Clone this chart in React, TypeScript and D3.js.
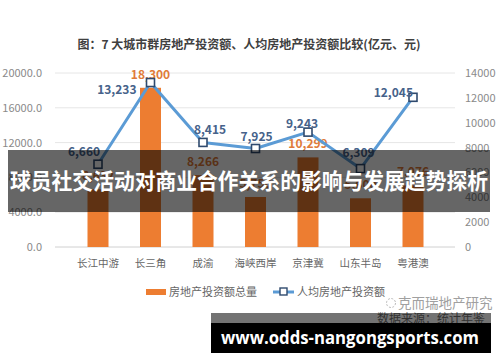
import React from "react";
import * as d3 from "d3";

const categories = ["长江中游", "长三角", "成渝", "海峡西岸", "京津冀", "山东半岛", "粤港澳"];
const totalInvestment = [6632, 18300, 8266, 5750, 10299, 5600, 7076];
const perCapita = [6660, 13233, 8415, 7925, 9243, 6309, 12045];
const leftTicks = [0, 4000, 8000, 12000, 16000, 20000];
const rightTicks = [0, 2000, 4000, 6000, 8000, 10000, 12000, 14000];
const title = "图：7 大城市群房地产投资额、人均房地产投资额比较(亿元、元)";
const legendBar = "房地产投资额总量";
const legendLine = "人均房地产投资额";
const overlayText = "球员社交活动对商业合作关系的影响与发展趋势探析";
const urlText = "www.odds-nangongsports.com";
const brand = "克而瑞地产研究";
const source = "数据来源：统计年鉴";

// label offsets (dx, dy) relative to marker for line labels
const lineLabelPos: [number, number][] = [
  [-14, -12],
  [-14, 7],
  [7, -13],
  [1, -12],
  [-6, -8],
  [-2, -16],
  [0, -4],
];

const W = 500;
const H = 362;
const CJK = "'Noto Sans CJK SC', 'Noto Sans', sans-serif";

export default function App() {
  const x = d3.scaleBand<string>().domain(categories).range([56, 455]).padding(0.6);
  const yL = d3.scaleLinear().domain([0, 20000]).range([247, 73]);
  const yR = d3.scaleLinear().domain([0, 14000]).range([247, 73]);
  const cx = (c: string) => (x(c) ?? 0) + x.bandwidth() / 2;
  const line = d3
    .line<number>()
    .x((_, i) => cx(categories[i]))
    .y((d) => yR(d));
  const fmt = d3.format(",");
  const fmtL = d3.format(".1f");

  return (
    <svg
      width={W}
      height={H}
      style={{ position: "absolute", left: 0, top: 0, display: "block", background: "#fff" }}
      fontFamily={CJK}
    >
      <text x={249} y={49} textAnchor="middle" fontSize={12} fontWeight="bold" fill="#404040">
        {title}
      </text>
      {leftTicks.map((t) => (
        <g key={"l" + t}>
          <line x1={55} x2={455} y1={yL(t)} y2={yL(t)} stroke={t === 0 ? "#d0d0d0" : "#e6e6e6"} strokeWidth={1} />
          <text x={42} y={yL(t) + 4} textAnchor="end" fontSize={11} fill="#8a8a8a">
            {fmtL(t)}
          </text>
        </g>
      ))}
      {rightTicks.map((t) => (
        <text key={"r" + t} x={465} y={yR(t) + 4} textAnchor="start" fontSize={11} fill="#8a8a8a">
          {t}
        </text>
      ))}
      {categories.map((c, i) => (
        <g key={c}>
          <rect x={x(c)} y={yL(totalInvestment[i])} width={x.bandwidth()} height={247 - yL(totalInvestment[i])} fill="#ED7D31" />
          <text x={cx(c)} y={yL(totalInvestment[i]) - 9} textAnchor="middle" fontSize={12} fontWeight="bold" fill="#E07B39">
            {fmt(totalInvestment[i])}
          </text>
          <text x={cx(c)} y={267} textAnchor="middle" fontSize={10.5} fill="#666">
            {c}
          </text>
        </g>
      ))}
      <path d={line(perCapita) ?? ""} fill="none" stroke="#5B9BD5" strokeWidth={3} strokeLinejoin="round" />
      {categories.map((c, i) => (
        <g key={"m" + c}>
          <rect x={cx(c) - 4} y={yR(perCapita[i]) - 4} width={8} height={8} fill="#fff" stroke="#2F4A6E" strokeWidth={1.6} />
          <text
            x={cx(c) + lineLabelPos[i][0]}
            y={yR(perCapita[i]) + lineLabelPos[i][1]}
            dy="0.35em"
            textAnchor={i === 1 || i === 6 ? "end" : "middle"}
            fontSize={12}
            fontWeight="bold"
            fill="#46628A"
          >
            {fmt(perCapita[i])}
          </text>
        </g>
      ))}
      {/* legend */}
      <rect x={146} y={289} width={20} height={6} fill="#ED7D31" />
      <text x={169} y={296} fontSize={11} fill="#666">
        {legendBar}
      </text>
      <line x1={273} x2={294} y1={292} y2={292} stroke="#5B9BD5" strokeWidth={3} />
      <rect x={280} y={288} width={7} height={7} fill="#fff" stroke="#2F4A6E" strokeWidth={1.4} />
      <text x={297} y={296} fontSize={11} fill="#666">
        {legendLine}
      </text>
      {/* watermark */}
      <circle cx={391} cy={303} r={4.5} fill="none" stroke="#bbb" strokeWidth={1} strokeDasharray="2 1.5" />
      <text x={398} y={308} fontSize={13.5} fill="#a0a0a0">
        {brand}
      </text>
      <text x={485} y={323} textAnchor="end" fontSize={12} fill="#707070">
        {source}
      </text>
      {/* overlay banner */}
      <rect x={8} y={150} width={482} height={62} fill="#000" fillOpacity={0.6} />
      <text x={249} y={189} textAnchor="middle" fontSize={22} fontWeight="bold" fill="#fff" textLength={478} lengthAdjust="spacingAndGlyphs">
        {overlayText}
      </text>
      {/* bottom url banner */}
      <rect x={211} y={313} width={280} height={10} fill="#000" fillOpacity={0.55} />
      <rect x={211} y={323} width={280} height={30} fill="#000" />
      <text x={350} y={344} textAnchor="middle" fontSize={18} fontWeight="bold" fill="#fff" fontFamily="'Open Sans', 'DejaVu Sans', sans-serif" textLength={258} lengthAdjust="spacingAndGlyphs">
        {urlText}
      </text>
    </svg>
  );
}
